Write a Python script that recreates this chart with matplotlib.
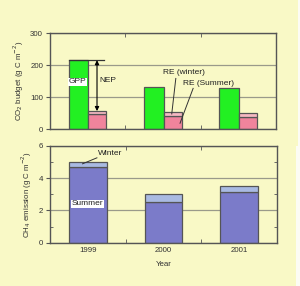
import matplotlib
matplotlib.use("Agg")
import matplotlib.pyplot as plt
import numpy as np
from matplotlib.patches import Rectangle

plt.rcParams['font.family'] = ['Liberation Sans', 'DejaVu Sans']

years = ['1999', '2000', '2001']
gpp = [215, 132, 127]
re_summer = [46, 41, 39]
re_winter = [10, 11, 10]
ch4_summer = [4.68, 2.5, 3.12]
ch4_winter = [0.32, 0.5, 0.38]

bg = '#F9F9C6'
green = '#22F022'
pink = '#F0849C'
pink_l = '#F6B8C2'
purple = '#7B7BC9'
blue_l = '#A9BAE2'
edge = '#555555'
grid_c = '#9A9A8A'
fs = 5.7
fa = 6.0
tc = '#333333'

fig = plt.figure(figsize=(3.0, 2.86), dpi=100, facecolor=bg)
fig.add_artist(Rectangle((296/300, 0), 4/300, 140/286, transform=fig.transFigure,
                         facecolor='#FCFCF4', edgecolor='none', zorder=5))
fig.add_artist(Rectangle((298/300, 140/286), 2/300, 146/286, transform=fig.transFigure,
                         facecolor='#FCFCF4', edgecolor='none', zorder=5))

ax1 = fig.add_axes([50/300, 1-129/286, 226/300, 96/286])
ax2 = fig.add_axes([50/300, 1-242.7/286, 227/300, 97/286])

x = np.arange(len(years))
for ax in (ax1, ax2):
    ax.set_facecolor(bg)
    for s in ax.spines.values():
        s.set_color(edge)
        s.set_linewidth(1.0)
    ax.set_xlim(-0.5, 2.5)
    ax.set_xticks(x)
    ax.set_xticks([0.5, 1.5], minor=True)
    ax.tick_params(axis='x', which='major', length=0, labelsize=fs, pad=3, colors=tc)
    ax.tick_params(axis='x', which='minor', direction='in', top=True, bottom=True, length=3, color=edge)
    ax.tick_params(axis='y', which='major', direction='out', length=3, labelsize=fs, color=edge, labelcolor=tc, pad=2)
    ax.tick_params(axis='y', which='minor', direction='in', left=True, right=True, length=2.5, color=edge)
    ax.set_axisbelow(True)
    ax.grid(axis='y', which='major', color=grid_c, linewidth=0.9)

# Top panel: CO2 budget
ax1.set_ylim(0, 300)
ax1.set_yticks([0, 100, 200, 300])
ax1.set_xticklabels([])
ax1.bar(x - 0.25, gpp, width=0.26, align='edge', color=green, edgecolor=edge, linewidth=0.9, zorder=2)
ax1.bar(x + 0.01, re_summer, width=0.24, align='edge', color=pink, edgecolor=edge, linewidth=0.9, zorder=2)
ax1.bar(x + 0.01, re_winter, bottom=re_summer, width=0.24, align='edge', color=pink_l, edgecolor=edge, linewidth=0.9, zorder=2)
ax1.set_ylabel('CO$_2$ budget (g C m$^{-2}$)', fontsize=fs, labelpad=3, color=tc)

# NEP arrow
re_tot0 = re_summer[0] + re_winter[0]
ax1.plot([-0.25, 0.22], [gpp[0], gpp[0]], color='#333333', linewidth=0.9, zorder=3)
ax1.annotate('', xy=(0.124, re_tot0), xytext=(0.124, gpp[0]),
             arrowprops=dict(arrowstyle='<|-|>', color='black', linewidth=0.8,
                             mutation_scale=6, shrinkA=0, shrinkB=0), zorder=3)
ax1.text(0.16, 153, 'NEP', fontsize=fa, va='center', ha='left', color='#222222')
ax1.text(-0.13, 147, 'GPP', fontsize=fa, va='center', ha='center', color='#222222',
         bbox=dict(facecolor='white', edgecolor='none', pad=0.5), zorder=4)

# RE labels with leader lines
ax1.text(1.0, 178, 'RE (winter)', fontsize=fa, va='center', ha='left', color='#222222')
ax1.plot([1.17, 1.116], [158, 47], color='#333333', linewidth=0.7, zorder=4)
ax1.text(1.27, 143, 'RE (Summer)', fontsize=fa, va='center', ha='left', color='#222222')
ax1.plot([1.40, 1.226], [127, 18], color='#333333', linewidth=0.7, zorder=4)

# Bottom panel: CH4 emission
ax2.set_ylim(0, 6)
ax2.set_yticks([0, 2, 4, 6])
ax2.set_yticks([1, 3, 5], minor=True)
ax2.set_xticklabels(years)
ax2.bar(x, ch4_summer, width=0.5, color=purple, edgecolor=edge, linewidth=0.9, zorder=2)
ax2.bar(x, ch4_winter, bottom=ch4_summer, width=0.5, color=blue_l, edgecolor=edge, linewidth=0.9, zorder=2)
ax2.set_ylabel('CH$_4$ emission (g C m$^{-2}$)', fontsize=fs, labelpad=3, color=tc)
ax2.set_xlabel('Year', fontsize=fs, labelpad=5, color=tc)
ax2.text(0, 2.4, 'Summer', fontsize=fa, va='center', ha='center', color='#222222',
         bbox=dict(facecolor='white', edgecolor='none', pad=0.5), zorder=4)
ax2.text(0.13, 5.5, 'Winter', fontsize=fa, va='center', ha='left', color='#222222')
ax2.plot([-0.07, 0.12], [4.88, 5.25], color='#333333', linewidth=0.7, zorder=4)

fig.savefig('out.png', dpi=100, facecolor=bg)
